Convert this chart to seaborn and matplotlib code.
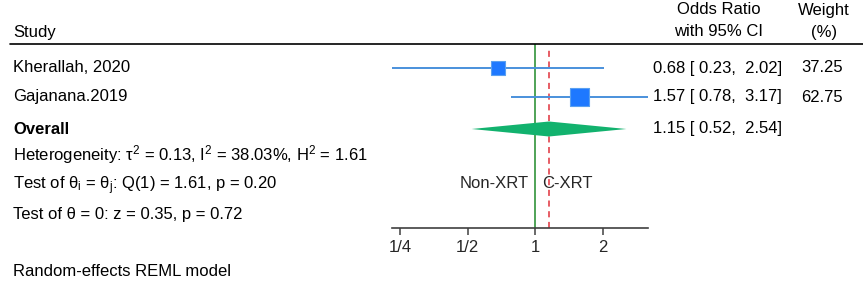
import numpy as np
import pandas as pd
import matplotlib
matplotlib.use("Agg")
import matplotlib.pyplot as plt
import seaborn as sns

# study data
studies = ["Kherallah, 2020", "Gajanana.2019"]
odds = [0.68, 1.57]
ci_low = [0.23, 0.78]
ci_high = [2.02, 3.17]
weights = [37.25, 62.75]

overall_or = 1.15
overall_low = 0.52
overall_high = 2.54

ticks = [0.25, 0.5, 1, 2]
tick_labels = ["1/4", "1/2", "1", "2"]

het_text = "Heterogeneity: τ$^2$ = 0.13, I$^2$ = 38.03%, H$^2$ = 1.61"
q_text = "Test of θ$_\\mathrm{i}$ = θ$_\\mathrm{j}$: Q(1) = 1.61, p = 0.20"
z_text = "Test of θ = 0: z = 0.35, p = 0.72"

sns.set_theme(style="white")
plt.rcParams["font.family"] = ["Liberation Sans", "DejaVu Sans"]
plt.rcParams["mathtext.fontset"] = "custom"
plt.rcParams["mathtext.rm"] = "Liberation Sans"
plt.rcParams["mathtext.it"] = "Liberation Sans:italic"
plt.rcParams["mathtext.bf"] = "Liberation Sans:bold"

W, H = 863, 290
fig = plt.figure(figsize=(W / 100, H / 100), dpi=100)

def px(x, y):
    return x / W, 1 - y / H

def ftext(x, y, s, **kw):
    kw.setdefault("fontsize", 12)
    kw.setdefault("va", "center")
    fig.text(*px(x, y), s, color="black", **kw)

# plot region: x spans the CI range, y in pixel rows
y_top, y_axis = 44, 228
x0, x1 = 392, 648
ax = fig.add_axes([x0 / W, (H - y_axis) / H, (x1 - x0) / W, (y_axis - y_top) / H])
ax.set_xscale("log", base=2)
ax.set_xlim(min(ci_low), max(ci_high))
ax.set_ylim(y_axis, y_top)

row_y = [68, 97]
overall_y = 129

df = pd.DataFrame({"study": studies, "odds": odds, "row": row_y, "weight": weights})

# CI lines
ax.hlines(row_y, ci_low, ci_high, color="#4a90dc", lw=1.4, zorder=2, clip_on=False)

# reference lines
ax.axvline(1, ymin=0, ymax=1, color="#1f8a2a", lw=1.1, zorder=1)
ax.axvline(overall_or, ymin=0, ymax=0.985, color="#e0303a", lw=1.1, ls=(0, (4, 3)), zorder=1)

# squares sized by weight (area proportional)
k = 2.9
sns.scatterplot(data=df, x="odds", y="row", size="weight",
                sizes=(min(weights) * k, max(weights) * k),
                size_norm=(min(weights), max(weights)),
                marker="s", color="#1e78ff", edgecolor="#5aa0f0", linewidth=0.8,
                legend=False, ax=ax, zorder=3, clip_on=False)

# overall diamond
dh = 7.5
ax.fill([overall_low, overall_or, overall_high, overall_or],
        [overall_y, overall_y - dh, overall_y, overall_y + dh],
        color="#12b26e", lw=0, zorder=4, clip_on=False)

ax.set_xlabel("")
ax.set_ylabel("")
ax.set_yticks([])
ax.set_xticks(ticks)
ax.set_xticklabels(tick_labels)
ax.xaxis.set_minor_locator(matplotlib.ticker.NullLocator())
for side in ["top", "left", "right"]:
    ax.spines[side].set_visible(False)
ax.spines["bottom"].set_color("#404040")
ax.spines["bottom"].set_linewidth(1.2)
ax.tick_params(axis="x", direction="out", length=5, width=1.1, color="#404040",
               labelsize=12, pad=4, bottom=True)
ax.patch.set_alpha(0)

ax.text(0.93, 183, "Non-XRT", ha="right", va="center", fontsize=12)
ax.text(1.066, 183, "C-XRT", ha="left", va="center", fontsize=12)

# header
ftext(13, 32, "Study")
ftext(719, 10, "Odds Ratio", ha="center")
ftext(719, 32, "with 95% CI", ha="center")
ftext(824, 10, "Weight", ha="center")
ftext(824, 32, "(%)", ha="center")
fig.add_artist(plt.Line2D([10 / W, 1], [1 - 44 / H] * 2, color="black", lw=1.2))

# study rows
for s, o, lo, hi, w, y in zip(studies, odds, ci_low, ci_high, weights, row_y):
    ftext(13, y, s)
    ftext(653, y, f"{o:.2f} [ {lo:.2f},  {hi:.2f}]")
    ftext(843, y, f"{w:.2f}", ha="right")

ftext(13, overall_y + 1, "Overall", fontweight="bold")
ftext(653, overall_y, f"{overall_or:.2f} [ {overall_low:.2f},  {overall_high:.2f}]")

ftext(13, 155, het_text)
ftext(13, 186, q_text)
ftext(13, 214, z_text)
ftext(13, 272, "Random-effects REML model")

fig.savefig("out.png", dpi=100)
